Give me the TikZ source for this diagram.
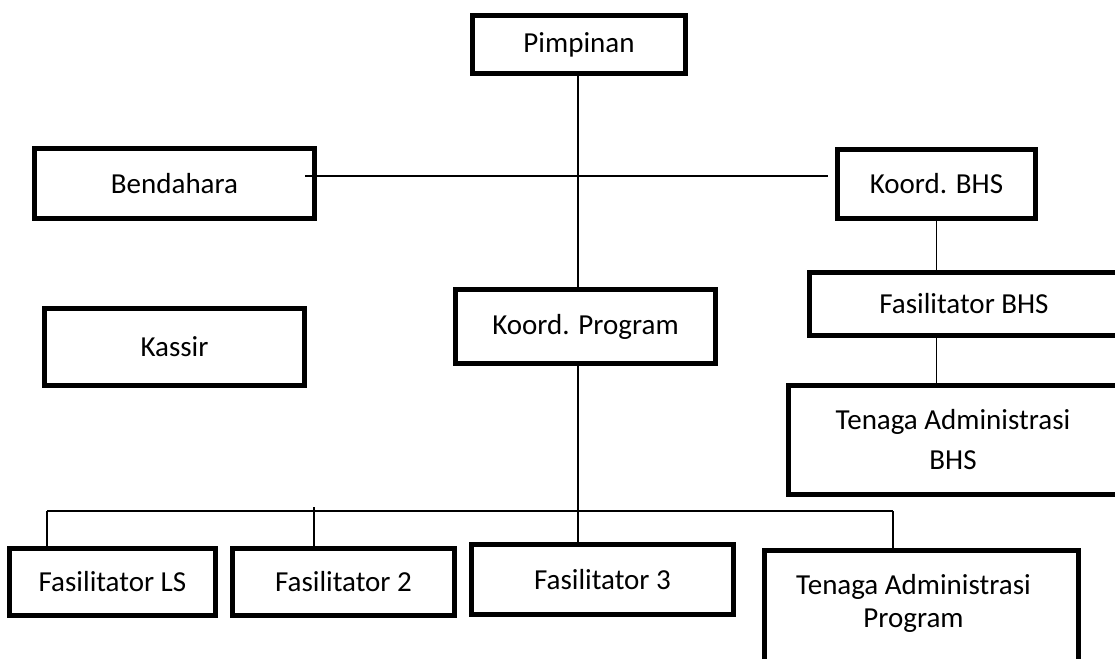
\documentclass[tikz,border=0pt]{standalone}
\usepackage{fontspec}
\setmainfont{Carlito}
\begin{document}
\begin{tikzpicture}[x=1pt,y=-1pt,line join=miter,
  font=\fontsize{29}{33}\selectfont,
  unit/.style={draw,line width=5pt,inner sep=0pt,align=center},
  link/.style={line width=1.3pt}]
  \clip (0,0) rectangle (1115,658);
  % top and staff
  \node[unit,minimum width=213pt,minimum height=58pt] (pim) at (579,44.5) {Pimpinan};
  \node[unit,minimum width=280pt,minimum height=70pt] (bend) at (174.5,183.5) {Bendahara};
  \node[unit,minimum width=260pt,minimum height=77pt] (kas) at (174.5,347) {Kassir};
  \node[unit,minimum width=198pt,minimum height=69pt] (kbhs) at (936.5,184) {Koord. BHS};
  \node[unit,minimum width=309pt,minimum height=63pt] (fbhs) at (964,304) {Fasilitator BHS};
  \node[unit,minimum width=329pt,minimum height=109pt] (tabhs) at (953,440)
    {Tenaga Administrasi\\[7pt]BHS};
  \node[unit,minimum width=260pt,minimum height=74pt] (kprog) at (585.5,326.5) {Koord. Program};
  % bottom row
  \node[unit,minimum width=206pt,minimum height=67pt] (fls) at (112.5,582) {Fasilitator LS};
  \node[unit,minimum width=222pt,minimum height=67pt] (f2) at (343.5,582) {Fasilitator 2};
  \node[unit,minimum width=262pt,minimum height=70pt] (f3) at (602.5,579.5) {Fasilitator 3};
  \node[unit,minimum width=314pt,minimum height=115pt] (tap) at (921.5,608) {};
  \node[align=center] (tapt) at (913.5,603) {Tenaga Administrasi\\Program};
  % connectors
  \coordinate (spine) at (578,0);
  \coordinate (bl) at (305,176);
  \coordinate (br) at (828,176);
  \coordinate (busL) at (47,511);
  \coordinate (busR) at (893,511);
  \coordinate (f2top) at (314,507);
  \draw[link] (pim.south -| spine) -- (kprog.north -| spine);
  \draw[link] (bl) -- (br);
  \draw[link] (kbhs.south) -- (kbhs.south |- fbhs.north);
  \draw[link] (fbhs.south -| kbhs) -- (kbhs |- tabhs.north);
  \draw[link] (kprog.south -| spine) -- (f3.north -| spine);
  \draw[link] (busL) -- (busR);
  \draw[link] (busL) -- (busL |- fls.north);
  \draw[link] (f2top) -- (f2top |- f2.north);
  \draw[link] (busR) -- (busR |- tap.north);
\end{tikzpicture}
\end{document}
